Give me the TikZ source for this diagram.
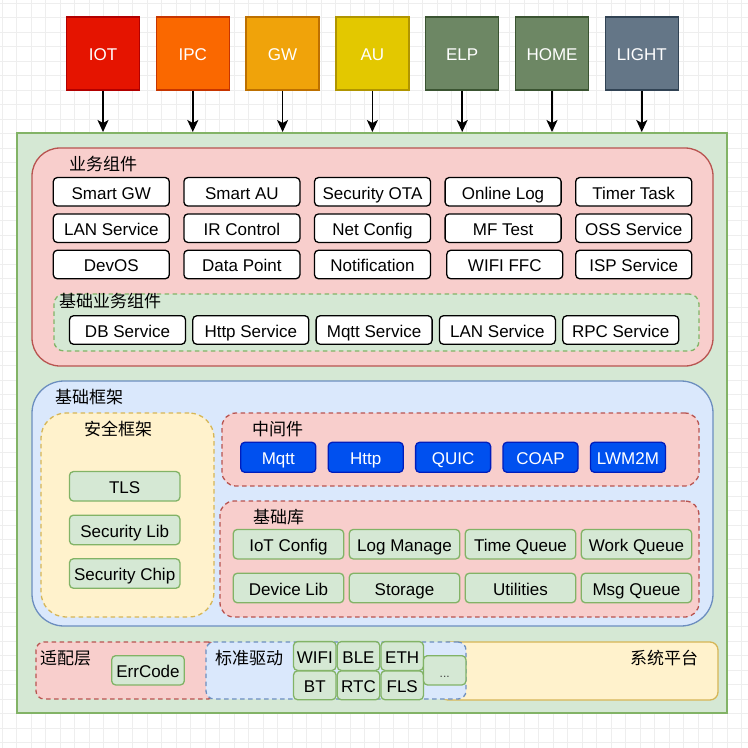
\documentclass[tikz,border=0pt]{standalone}
\usepackage{fontspec}
\setmainfont{Liberation Sans}
\newfontfamily\cjk{Noto Sans CJK SC}
\usetikzlibrary{positioning,arrows.meta}

\definecolor{iotc}{HTML}{E51400}\definecolor{iotd}{HTML}{B20000}
\definecolor{ipcc}{HTML}{FA6800}\definecolor{ipcd}{HTML}{C73500}
\definecolor{gwc}{HTML}{F0A30A}\definecolor{gwd}{HTML}{BD7000}
\definecolor{auc}{HTML}{E3C800}\definecolor{aud}{HTML}{B09500}
\definecolor{elpc}{HTML}{6D8764}\definecolor{elpd}{HTML}{3A5431}
\definecolor{lightc}{HTML}{647687}\definecolor{lightd}{HTML}{314354}
\definecolor{redfill}{HTML}{F8CECC}\definecolor{redline}{HTML}{B85450}
\definecolor{greenfill}{HTML}{D5E8D4}\definecolor{greenline}{HTML}{82B366}
\definecolor{bluefill}{HTML}{DAE8FC}\definecolor{blueline}{HTML}{6C8EBF}
\definecolor{yellowfill}{HTML}{FFF2CC}\definecolor{yellowline}{HTML}{D6B656}
\definecolor{protofill}{HTML}{0050EF}\definecolor{protoline}{HTML}{001DBC}
\definecolor{gridc}{HTML}{EEEEEE}

\tikzstyle{every node}+=[inner sep=0pt,font=\fontsize{17}{20}\selectfont]
\tikzstyle{gridline}=[draw=gridc,line width=0.8pt]
\tikzstyle{boxtext}=[text height=14.4pt,text depth=0pt]
\tikzstyle{app}=[rectangle,boxtext,line width=1.4pt,text=white,minimum width=73pt,minimum height=73pt,node distance=89.8pt]
\tikzstyle{feed}=[line width=1.5pt,-{Stealth[length=12pt,width=11pt,inset=3pt]}]
\tikzstyle{layer}=[rectangle,line width=1.3pt]
\tikzstyle{dashedlayer}=[layer,dash pattern=on 4.5pt off 3.5pt]
\tikzstyle{grouptitle}=[anchor=west,font=\cjk\fontsize{17}{20}\selectfont]
\tikzstyle{svc}=[rectangle,boxtext,rounded corners=4pt,draw=black,fill=white,line width=1.3pt,minimum width=116pt,minimum height=28.5pt,node distance=130.6pt]
\tikzstyle{basesvc}=[svc,node distance=123.3pt]
\tikzstyle{lib}=[rectangle,boxtext,rounded corners=4pt,draw=greenline,fill=greenfill,line width=1.3pt,minimum width=110.5pt,minimum height=29.5pt,node distance=116pt]
\tikzstyle{sec}=[lib,node distance=43.6pt]
\tikzstyle{proto}=[rectangle,boxtext,rounded corners=4pt,draw=protoline,fill=protofill,text=white,line width=1.3pt,minimum width=75pt,minimum height=30pt,node distance=87.4pt]
\tikzstyle{drv}=[lib,minimum width=42.5pt,minimum height=28.8pt,node distance=43.7pt]

\begin{document}
\begin{tikzpicture}[x=1pt,y=-1pt]
\useasboundingbox (0,0) rectangle (748,748);

% canvas grid
\foreach \g in {0,...,51} {
  \draw[gridline] (2+14.5*\g,0) -- (2+14.5*\g,748);
  \draw[gridline] (0,3+14.5*\g) -- (748,3+14.5*\g);
}

% products
\node[app,fill=iotc,draw=iotd] (iot) at (103,53.5) {IOT};
\node[app,fill=ipcc,draw=ipcd,right of=iot] (ipc) {IPC};
\node[app,fill=gwc,draw=gwd,right of=ipc] (gw) {GW};
\node[app,fill=auc,draw=aud,right of=gw] (au) {AU};
\node[app,fill=elpc,draw=elpd,right of=au] (elp) {ELP};
\node[app,fill=elpc,draw=elpd,right of=elp] (home) {HOME};
\node[app,fill=lightc,draw=lightd,right of=home] (light) {LIGHT};

% sdk
\node[layer,fill=greenfill,draw=greenline,line width=2pt,minimum width=710pt,minimum height=580pt] (core) at (372,423) {};

\draw[feed] (iot) -- (iot |- core.north);
\draw[feed] (ipc) -- (ipc |- core.north);
\draw[feed] (gw) -- (gw |- core.north);
\draw[feed] (au) -- (au |- core.north);
\draw[feed] (elp) -- (elp |- core.north);
\draw[feed] (home) -- (home |- core.north);
\draw[feed] (light) -- (light |- core.north);

% business components
\node[layer,fill=redfill,draw=redline,rounded corners=28pt,minimum width=681pt,minimum height=218pt] (biz) at (372.5,257) {};
\node[grouptitle] (biztitle) at (69,164) {业务组件};

\node[svc] (smartgw) at (111.3,191.8) {Smart GW};
\node[svc,right of=smartgw] (smartau) {Smart AU};
\node[svc,right of=smartau] (ota) {Security OTA};
\node[svc,right of=ota] (onlinelog) {Online Log};
\node[svc,right of=onlinelog] (timer) {Timer Task};

\node[svc] (lansvc) at (111.3,228.2) {LAN Service};
\node[svc,right of=lansvc] (ir) {IR Control};
\node[svc,right of=ir] (netcfg) {Net Config};
\node[svc,right of=netcfg] (mftest) {MF Test};
\node[svc,right of=mftest] (oss) {OSS Service};

\node[svc] (devos) at (111.3,264.5) {DevOS};
\node[svc,right of=devos] (dp) {Data Point};
\node[svc,right of=dp] (notify) {Notification};
\node[svc,right of=notify,xshift=1.7pt] (ffc) {WIFI FFC};
\node[svc,right of=notify,node distance=261.2pt] (isp) {ISP Service};

\node[dashedlayer,fill=greenfill,draw=greenline,rounded corners=10pt,minimum width=645pt,minimum height=57pt] (basebiz) at (376.5,322.5) {};
\node[grouptitle] (basebiztitle) at (59,301) {基础业务组件};

\node[basesvc] (db) at (127.5,330) {DB Service};
\node[basesvc,right of=db] (http) {Http Service};
\node[basesvc,right of=http] (mqtt) {Mqtt Service};
\node[basesvc,right of=mqtt] (lan) {LAN Service};
\node[basesvc,right of=lan] (rpc) {RPC Service};

% base framework
\node[layer,fill=bluefill,draw=blueline,rounded corners=32pt,minimum width=681pt,minimum height=245pt] (frame) at (372.5,503.5) {};
\node[grouptitle] (frametitle) at (55,397) {基础框架};

\node[dashedlayer,fill=yellowfill,draw=yellowline,rounded corners=25pt,minimum width=173pt,minimum height=204pt] (security) at (127.5,515) {};
\node[grouptitle] (securitytitle) at (84,429) {安全框架};
\node[sec] (tls) at (124.7,486.3) {TLS};
\node[sec,below of=tls] (seclib) {Security Lib};
\node[sec,below of=seclib] (chip) {Security Chip};

\node[dashedlayer,fill=redfill,draw=redline,rounded corners=14pt,minimum width=477pt,minimum height=73pt] (middle) at (460.5,449.5) {};
\node[grouptitle] (middletitle) at (252,429) {中间件};
\node[proto] (pmqtt) at (278.3,457.3) {Mqtt};
\node[proto,right of=pmqtt] (phttp) {Http};
\node[proto,right of=phttp] (quic) {QUIC};
\node[proto,right of=quic] (coap) {COAP};
\node[proto,right of=coap] (lwm2m) {LWM2M};

\node[dashedlayer,fill=redfill,draw=redline,rounded corners=14pt,minimum width=479pt,minimum height=116pt] (baselib) at (459.5,559) {};
\node[grouptitle] (baselibtitle) at (253,517) {基础库};
\node[lib] (iotcfg) at (288.5,544.2) {IoT Config};
\node[lib,right of=iotcfg] (logmgr) {Log Manage};
\node[lib,right of=logmgr] (timeq) {Time Queue};
\node[lib,right of=timeq] (workq) {Work Queue};
\node[lib] (devlib) at (288.5,588) {Device Lib};
\node[lib,right of=devlib] (storage) {Storage};
\node[lib,right of=storage] (utils) {Utilities};
\node[lib,right of=utils] (msgq) {Msg Queue};

% platform
\node[layer,fill=yellowfill,draw=yellowline,rounded corners=8pt,minimum width=278pt,minimum height=58pt] (platform) at (579,671) {};
\node[grouptitle] (platformtitle) at (630,658) {系统平台};

\node[dashedlayer,fill=redfill,draw=redline,rounded corners=8pt,minimum width=180pt,minimum height=57pt] (adapt) at (126,670.5) {};
\node[grouptitle] (adapttitle) at (40,658) {适配层};
\node[lib,minimum width=72.6pt,minimum height=29.3pt] (errcode) at (148,670.3) {ErrCode};

\node[dashedlayer,fill=bluefill,draw=blueline,rounded corners=8pt,minimum width=260pt,minimum height=57pt] (driver) at (336,670.5) {};
\node[grouptitle] (drivertitle) at (215,658) {标准驱动};
\node[drv] (wifi) at (314.8,656) {WIFI};
\node[drv,right of=wifi] (ble) {BLE};
\node[drv,right of=ble] (eth) {ETH};
\node[drv] (bt) at (314.8,685.3) {BT};
\node[drv,right of=bt] (rtc) {RTC};
\node[drv,right of=rtc] (fls) {FLS};
\node[drv,minimum height=29.3pt,font=\fontsize{12}{14}\selectfont,text=black!75] (more) at (444.7,670.3) {...};
\end{tikzpicture}
\end{document}
